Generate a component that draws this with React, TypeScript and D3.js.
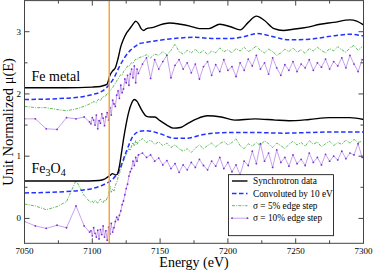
import * as d3 from 'd3';
import React from 'react';

// energy grid of the noisy (simulated) spectra
const preE = [7050, 7058, 7066, 7074, 7081, 7088, 7094, 7098];
const edgeE = [7099, 7100, 7101, 7102, 7103, 7104, 7105, 7106, 7107, 7108, 7109, 7110, 7111, 7112,
    7113, 7114, 7115, 7116, 7117, 7118, 7119, 7120, 7121, 7122, 7123, 7124, 7125, 7126, 7127, 7128,
    7129, 7130, 7131, 7132, 7133, 7134];
const postE = [7137, 7140, 7143, 7146, 7149, 7152, 7155, 7158, 7161, 7164, 7167, 7170, 7173, 7176,
    7179, 7182, 7185, 7188, 7191, 7194, 7197, 7200, 7203, 7206, 7209, 7212, 7215, 7218, 7221, 7224,
    7227, 7230, 7233, 7236, 7239, 7242, 7245, 7248, 7251, 7254, 7257, 7260, 7263, 7266, 7269, 7272,
    7275, 7278, 7281, 7284, 7287, 7290, 7293, 7296, 7299];
const noisyE = [...preE, ...edgeE, ...postE];

// Fe metal
const feSynE = [7050, 7080, 7100, 7106, 7109, 7111, 7113, 7115, 7117, 7119, 7121, 7123, 7125, 7127,
    7129, 7131, 7132, 7134, 7136, 7138, 7140, 7145, 7150, 7157, 7165, 7172, 7179, 7186, 7194, 7202,
    7209, 7215, 7221, 7227, 7234, 7241, 7248, 7258, 7268, 7278, 7290, 7295, 7300];
const feSyn = [2.10, 2.10, 2.11, 2.12, 2.14, 2.16, 2.30, 2.37, 2.42, 2.57, 2.76, 2.88, 2.97, 3.03,
    3.09, 3.15, 3.17, 3.13, 3.05, 3.02, 3.05, 3.07, 3.11, 3.14, 3.12, 3.09, 3.05, 3.05, 3.12, 3.08,
    3.03, 3.15, 3.25, 3.18, 3.05, 3.02, 3.04, 3.07, 3.12, 3.15, 3.19, 3.17, 3.11];
const feConvE = [7050, 7080, 7091, 7100, 7106, 7110, 7113, 7116, 7120, 7124, 7128, 7132, 7135, 7140,
    7152, 7165, 7175, 7190, 7200, 7210, 7222, 7235, 7245, 7260, 7280, 7290, 7300];
const feConv = [1.91, 1.93, 1.95, 1.99, 2.03, 2.09, 2.16, 2.26, 2.44, 2.59, 2.70, 2.77, 2.81, 2.83,
    2.87, 2.90, 2.91, 2.89, 2.89, 2.91, 2.97, 2.91, 2.87, 2.88, 2.94, 2.96, 2.93];
const fe5 = [1.80, 1.78, 1.78, 1.75, 1.73, 1.76, 1.80, 1.84,
    1.86, 1.85, 1.88, 1.87, 1.86, 1.90, 1.92, 1.89, 1.93, 1.96, 1.95, 1.97, 2.01, 2.00,
    2.05, 2.08, 2.10, 2.14, 2.17, 2.21, 2.24, 2.28, 2.31, 2.30, 2.36, 2.39, 2.41, 2.45, 2.44, 2.48,
    2.50, 2.49, 2.53, 2.56, 2.55, 2.58,
    2.60, 2.63, 2.58, 2.64, 2.62, 2.68, 2.63, 2.70, 2.80, 2.68, 2.64, 2.70, 2.66, 2.72,
    2.65, 2.70, 2.63, 2.69, 2.66, 2.74, 2.68, 2.71, 2.66, 2.73, 2.69, 2.75, 2.68, 2.72, 2.77, 2.70,
    2.66, 2.72, 2.68, 2.62, 2.66, 2.72, 2.68, 2.74, 2.67, 2.71, 2.65, 2.73, 2.69, 2.75, 2.70, 2.66,
    2.73, 2.69, 2.76, 2.71, 2.67, 2.74, 2.78, 2.70, 2.76];
const fe10 = [1.60, 1.60, 1.44, 1.43, 1.62, 1.60, 1.63, 1.55,
    1.52, 1.62, 1.58, 1.50, 1.66, 1.44, 1.57, 1.53, 1.68, 1.61, 1.49, 1.63, 1.70, 1.58,
    1.78, 1.66, 1.90, 1.84, 1.80, 1.98, 2.05, 1.93, 2.14, 2.02, 2.08, 2.24, 2.18, 2.30, 2.14, 2.32,
    2.40, 2.26, 2.45, 2.18, 2.40, 2.33,
    2.48, 2.58, 2.25, 2.55, 2.40, 2.52, 2.62, 2.26, 2.46, 2.55, 2.40, 2.50, 2.34, 2.48,
    2.24, 2.44, 2.52, 2.30, 2.47, 2.36, 2.55, 2.38, 2.44, 2.28, 2.50, 2.38, 2.56, 2.45, 2.62, 2.40,
    2.50, 2.32, 2.58, 2.42, 2.30, 2.47, 2.38, 2.52, 2.36, 2.48, 2.42, 2.55, 2.38, 2.50, 2.43, 2.56,
    2.40, 2.52, 2.45, 2.58, 2.42, 2.62, 2.48, 2.36, 2.55];

// Fe3O4
const oxSynE = [7050, 7090, 7105, 7109, 7111, 7113, 7115, 7117, 7118.5, 7120, 7121.5, 7123, 7125,
    7127, 7129, 7131, 7133, 7135, 7137, 7140, 7143, 7146, 7150, 7155, 7160, 7165, 7170, 7177, 7185,
    7195, 7205, 7220, 7235, 7245, 7260, 7275, 7290, 7300];
const oxSyn = [0.60, 0.60, 0.61, 0.63, 0.66, 0.69, 0.72, 0.70, 0.71, 0.84, 1.05, 1.27, 1.52,
    1.72, 1.85, 1.91, 1.88, 1.80, 1.72, 1.64, 1.63, 1.63, 1.57, 1.50, 1.45, 1.46, 1.52, 1.60, 1.65,
    1.63, 1.58, 1.60, 1.58, 1.57, 1.59, 1.62, 1.62, 1.59];
const oxConvE = [7050, 7080, 7091, 7100, 7106, 7110, 7115, 7120, 7125, 7130, 7135, 7140, 7150, 7160,
    7170, 7180, 7190, 7200, 7220, 7240, 7260, 7280, 7300];
const oxConv = [0.41, 0.43, 0.45, 0.48, 0.52, 0.56, 0.63, 0.78, 1.07, 1.32, 1.40, 1.41, 1.36, 1.29,
    1.29, 1.34, 1.37, 1.38, 1.38, 1.37, 1.38, 1.39, 1.39];
const ox5 = [0.23, 0.20, 0.14, 0.19, 0.27, 0.61, 0.37, 0.27,
    0.26, 0.28, 0.25, 0.29, 0.27, 0.24, 0.28, 0.31, 0.27, 0.25, 0.30, 0.28, 0.33, 0.38,
    0.52, 0.42, 0.47, 0.44, 0.53, 0.58, 0.66, 0.72, 0.79, 0.86, 0.92, 0.98, 1.03, 1.07, 1.12, 1.09,
    1.17, 1.22, 1.16, 1.25, 1.19, 1.24,
    1.28, 1.22, 1.26, 1.19, 1.23, 1.17, 1.21, 1.14, 1.18, 1.12, 1.08, 1.12, 1.06, 1.13,
    1.18, 1.12, 1.17, 1.21, 1.15, 1.20, 1.24, 1.18, 1.22, 1.28, 1.17, 1.12, 1.20, 1.16, 1.22, 1.17,
    1.25, 1.20, 1.14, 1.21, 1.17, 1.12, 1.19, 1.24, 1.18, 1.22, 1.16, 1.25, 1.19, 1.23, 1.15, 1.20,
    1.24, 1.17, 1.22, 1.19, 1.26, 1.21, 1.27, 1.22, 1.24];
const ox10 = [-0.05, -0.12, -0.16, -0.11, -0.15, 0.20, -0.12, -0.22,
    -0.20, -0.28, -0.15, -0.24, -0.30, -0.19, -0.33, -0.18, -0.26, -0.12, -0.30, -0.20, -0.35, -0.14,
    -0.25, -0.08, -0.22, -0.15, -0.05, 0.02, -0.02, 0.05, 0.12, 0.22, 0.28, 0.38, 0.48, 0.55, 0.68, 0.75,
    0.80, 0.92, 0.85, 0.98, 0.92, 1.02,
    1.05, 0.98, 1.02, 0.92, 0.97, 0.86, 0.93, 0.80, 0.88, 0.74, 0.86, 0.78, 0.90, 0.82,
    0.95, 0.85, 0.78, 0.92, 0.84, 0.98, 0.80, 0.90, 0.75, 0.86, 0.70, 0.92, 0.85, 1.08, 0.88, 1.20,
    0.92, 1.05, 0.82, 1.10, 0.90, 0.98, 0.84, 1.02, 0.88, 0.95, 0.85, 1.05, 0.90, 0.98, 0.86, 1.03,
    0.92, 1.00, 0.94, 1.08, 0.96, 1.05, 1.02, 1.20, 0.98];

const edgeEnergy = 7112.5;
const xTicks = [7050, 7100, 7150, 7200, 7250, 7300];
const xMinor = [7075, 7125, 7175, 7225, 7275];
const yTicks = [0, 1, 2, 3];
const yMinor = [0.5, 1.5, 2.5];
const legendLabels = ['Synchrotron data', 'Convoluted by 10 eV', 'σ = 5% edge step', 'σ = 10% edge step'];

const W = 374;
const H = 271;
const left = 24.5, right = 363.5, top = 0.6, bottom = 243.3;
const serif = '"Liberation Serif", "DejaVu Serif", "Times New Roman", Times, serif';

const App: React.FC = () => {
    const x = d3.scaleLinear().domain([7050, 7300]).range([left, right]);
    const y = d3.scaleLinear().domain([-0.4, 3.5]).range([bottom, top]);

    const smooth = (es: number[], vs: number[]) =>
        d3.line<number>().x((_, i) => x(es[i])).y(d => y(d)).curve(d3.curveMonotoneX)(vs) || '';
    const straight = (vs: number[]) =>
        d3.line<number>().x((_, i) => x(noisyE[i])).y(d => y(d))(vs) || '';

    const black = '#000';
    const blue = '#2233ff';
    const green = '#33aa33';
    const purpleLine = '#b98ae8';
    const purpleDot = '#7a2ed0';
    const dashDot = '3,1.2,1,1.2';
    const dashed = '4.5,2.5';

    const noisyDots = (vs: number[], key: string) =>
        vs.map((v, i) => (
            <circle key={key + i} cx={x(noisyE[i])} cy={y(v)} r={0.9} fill={purpleDot} />
        ));

    const legX = 228.5, legY = 174.7, legW = 105, legH = 61;
    const rowY = [181, 193.4, 205.7, 218.2];

    return (
        <svg width={W} height={H} style={{ position: 'absolute', left: 0, top: 0, fontFamily: serif }}>
            <rect width={W} height={H} fill="#fff" />
            <defs>
                <clipPath id="plotClip">
                    <rect x={left} y={top} width={right - left} height={bottom - top} />
                </clipPath>
            </defs>

            <g clipPath="url(#plotClip)">
                {/* 10% noise */}
                <path d={straight(fe10)} fill="none" stroke={purpleLine} strokeWidth={0.8} />
                {noisyDots(fe10, 'a')}
                <path d={straight(ox10)} fill="none" stroke={purpleLine} strokeWidth={0.8} />
                {noisyDots(ox10, 'b')}
                {/* 5% noise */}
                <path d={straight(fe5)} fill="none" stroke={green} strokeWidth={0.8} strokeDasharray={dashDot} />
                <path d={straight(ox5)} fill="none" stroke={green} strokeWidth={0.8} strokeDasharray={dashDot} />
                {/* convoluted */}
                <path d={smooth(feConvE, feConv)} fill="none" stroke={blue} strokeWidth={1.5} strokeDasharray={dashed} />
                <path d={smooth(oxConvE, oxConv)} fill="none" stroke={blue} strokeWidth={1.5} strokeDasharray={dashed} />
                {/* synchrotron */}
                <path d={smooth(feSynE, feSyn)} fill="none" stroke={black} strokeWidth={1.4} />
                <path d={smooth(oxSynE, oxSyn)} fill="none" stroke={black} strokeWidth={1.4} />
                {/* edge energy */}
                <line x1={x(edgeEnergy)} x2={x(edgeEnergy)} y1={top} y2={bottom} stroke="#f5a73a" strokeWidth={1.5} />
            </g>

            {/* frame and ticks */}
            <rect x={left} y={top} width={right - left} height={bottom - top} fill="none" stroke="#444" strokeWidth={1} />
            {xTicks.map(t => (
                <g key={'xt' + t}>
                    <line x1={x(t)} x2={x(t)} y1={bottom} y2={bottom - 5} stroke="#444" />
                    <line x1={x(t)} x2={x(t)} y1={top} y2={top + 5} stroke="#444" />
                    <text x={x(t)} y={254} fontSize={9} textAnchor="middle">{t}</text>
                </g>
            ))}
            {xMinor.map(t => (
                <g key={'xm' + t}>
                    <line x1={x(t)} x2={x(t)} y1={bottom} y2={bottom - 3} stroke="#444" />
                    <line x1={x(t)} x2={x(t)} y1={top} y2={top + 3} stroke="#444" />
                </g>
            ))}
            {yTicks.map(t => (
                <g key={'yt' + t}>
                    <line x1={left} x2={left + 5} y1={y(t)} y2={y(t)} stroke="#444" />
                    <line x1={right} x2={right - 5} y1={y(t)} y2={y(t)} stroke="#444" />
                    <text x={21} y={y(t) + 3} fontSize={9} textAnchor="end">{t}</text>
                </g>
            ))}
            {yMinor.map(t => (
                <g key={'ym' + t}>
                    <line x1={left} x2={left + 3} y1={y(t)} y2={y(t)} stroke="#444" />
                    <line x1={right} x2={right - 3} y1={y(t)} y2={y(t)} stroke="#444" />
                </g>
            ))}

            {/* axis titles */}
            <text x={(left + right) / 2} y={267} fontSize={14} textAnchor="middle">Energy (eV)</text>
            <text transform={`translate(12.5,${(top + bottom) / 2}) rotate(-90)`} fontSize={14.5} textAnchor="middle">
                Unit Normalized μ(E)
            </text>

            {/* sample labels */}
            <text x={31.5} y={81} fontSize={14}>Fe metal</text>
            <text x={31.5} y={173} fontSize={14}>
                Fe<tspan fontSize={10} dy={3}>3</tspan><tspan dy={-3}>O</tspan><tspan fontSize={10} dy={3}>4</tspan>
            </text>

            {/* legend */}
            <rect x={legX} y={legY} width={legW} height={legH} fill="#fff" stroke="#000" strokeWidth={0.8} />
            <line x1={232} x2={247.5} y1={rowY[0]} y2={rowY[0]} stroke={black} strokeWidth={1.4} />
            <line x1={232} x2={247.5} y1={rowY[1]} y2={rowY[1]} stroke={blue} strokeWidth={1.5} strokeDasharray={dashed} />
            <line x1={232} x2={247.5} y1={rowY[2]} y2={rowY[2]} stroke={green} strokeWidth={0.8} strokeDasharray={dashDot} />
            <line x1={232} x2={247.5} y1={rowY[3]} y2={rowY[3]} stroke={purpleLine} strokeWidth={0.8} />
            <circle cx={232} cy={rowY[3]} r={0.9} fill={purpleDot} />
            <circle cx={247.5} cy={rowY[3]} r={0.9} fill={purpleDot} />
            {legendLabels.map((l, i) => (
                <text key={l} x={253} y={rowY[i] + 3.2} fontSize={9.3}>{l}</text>
            ))}
        </svg>
    );
};

export default App;
